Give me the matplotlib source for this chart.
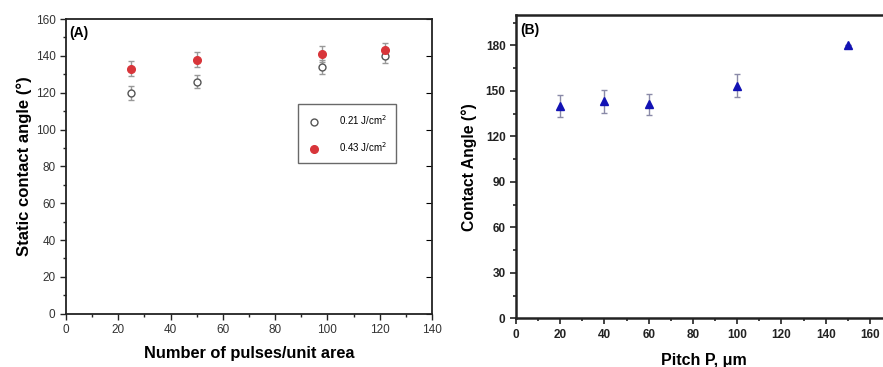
import numpy as np
import matplotlib.pyplot as plt
from matplotlib.ticker import MultipleLocator
from matplotlib.lines import Line2D

plt.rcParams['font.family'] = ['Liberation Sans', 'DejaVu Sans']

# panel A: static contact angle vs pulses
pulses = [25, 50, 98, 122]
ca_021 = [120, 126, 134, 140]
err_021 = [3.7, 3.7, 3.8, 4.0]
ca_043 = [133, 138, 141, 143]
err_043 = [4.0, 4.3, 4.5, 4.0]

# panel B: contact angle vs pitch
pitch = [20, 40, 60, 100, 150]
ca_pitch = [140, 143, 141, 153.4, 180]
err_pitch = [7.0, 7.3, 7.0, 7.6, 0]

fig = plt.figure(figsize=(8.83, 3.67), dpi=100)

# ---------- (A) ----------
ax1 = fig.add_axes([0.0747, 0.1452, 0.4145, 0.803])
ax1.errorbar(pulses, ca_021, yerr=err_021, fmt='o', mfc='white', mec='#555555',
             ms=5, mew=1.0, ecolor='#999999', elinewidth=1, capsize=2.5)
ax1.errorbar(pulses, ca_043, yerr=err_043, fmt='o', mfc='#d8353a', mec='#d8353a',
             ms=5.5, ecolor='#999999', elinewidth=1, capsize=2.5)
ax1.set_xlim(0, 140)
ax1.set_ylim(0, 160)
ax1.xaxis.set_major_locator(MultipleLocator(20))
ax1.xaxis.set_minor_locator(MultipleLocator(10))
ax1.yaxis.set_major_locator(MultipleLocator(20))
ax1.yaxis.set_minor_locator(MultipleLocator(10))
ax1.tick_params(which='both', direction='out', labelsize=8.5, colors='#222222', labelcolor='#333333')
ax1.tick_params(which='major', length=4, width=1)
ax1.tick_params(which='minor', length=2.5, width=1)
sec = ax1.secondary_yaxis('right')
sec.yaxis.set_major_locator(MultipleLocator(20))
sec.tick_params(direction='in', length=4, labelright=False)
sec.spines['right'].set_visible(False)
for s in ax1.spines.values():
    s.set_linewidth(1.3)
    s.set_color('#222222')
ax1.set_ylabel('Static contact angle (°)', fontsize=12, fontweight='bold', labelpad=3)
ax1.set_xlabel('Number of pulses/unit area', fontsize=11.8, fontweight='bold', labelpad=7)
ax1.text(0.008, 0.975, '(A)', transform=ax1.transAxes, fontsize=10, fontweight='bold',
         va='top', ha='left')
handles = [Line2D([], [], ls='none', marker='o', mfc='white', mec='#555555', ms=5),
           Line2D([], [], ls='none', marker='o', mfc='#d8353a', mec='#d8353a', ms=5.5)]
leg = ax1.legend(handles, ['0.21 J/cm$^{2}$', '0.43 J/cm$^{2}$'], loc='upper left',
                 bbox_to_anchor=(0.62, 0.728), fontsize=7, frameon=True, fancybox=False,
                 edgecolor='#444444', handletextpad=1.8, borderpad=0.95, labelspacing=1.35,
                 handlelength=1.5)
leg.get_frame().set_linewidth(1.0)

# ---------- (B) ----------
ax2 = fig.add_axes([0.5844, 0.1327, 0.4258, 0.8264])
ax2.errorbar(pitch, ca_pitch, yerr=err_pitch, fmt='^', mfc='#1212b4', mec='#1212b4',
             ms=6, ecolor='#8a8aa8', elinewidth=1, capsize=2.5)
ax2.set_xlim(0, 170)
ax2.set_ylim(0, 200)
ax2.xaxis.set_major_locator(MultipleLocator(20))
ax2.xaxis.set_minor_locator(MultipleLocator(10))
ax2.yaxis.set_major_locator(MultipleLocator(30))
ax2.yaxis.set_minor_locator(MultipleLocator(15))
ax2.tick_params(which='both', direction='out', labelsize=8.5, colors='#222222')
ax2.tick_params(which='major', length=4, width=1.2)
ax2.tick_params(which='minor', length=2.5, width=1.2)
for lab in ax2.get_xticklabels() + ax2.get_yticklabels():
    lab.set_fontweight('bold')
for s in ax2.spines.values():
    s.set_linewidth(1.8)
    s.set_color('#222222')
ax2.set_ylabel('Contact Angle (°)', fontsize=11.3, fontweight='bold', labelpad=6)
ax2.set_xlabel('Pitch P, μm', fontsize=11.5, fontweight='bold', labelpad=9)
ax2.text(0.012, 0.975, '(B)', transform=ax2.transAxes, fontsize=10, fontweight='bold',
         va='top', ha='left')

fig.savefig('out.png', dpi=100)
